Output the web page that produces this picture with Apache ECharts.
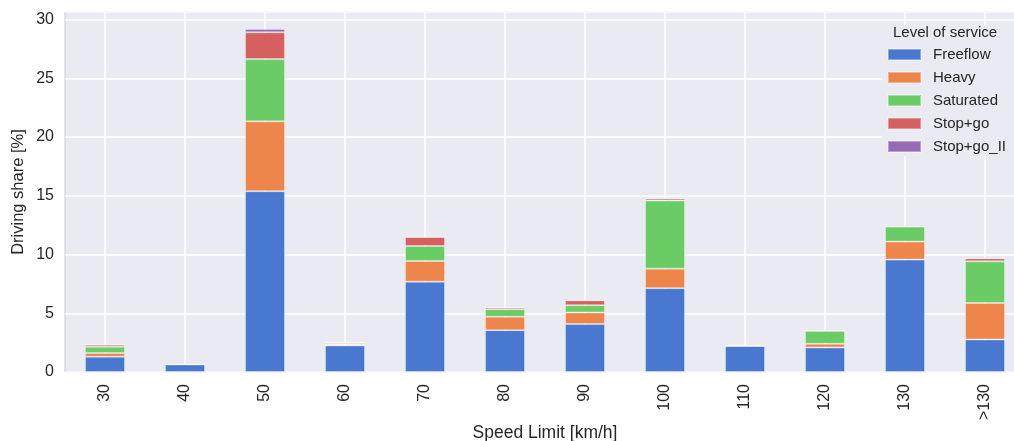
<!DOCTYPE html>
<html>
<head>
<meta charset="utf-8">
<script src="https://cdn.jsdelivr.net/npm/echarts@6/dist/echarts.min.js"></script>
<style>
  html, body { margin: 0; padding: 0; background: #ffffff; }
  #chart { width: 1014px; height: 441px; }
</style>
</head>
<body>
<div id="chart"></div>
<script>
// Driving share per speed limit, split by level of service (stacked, %)
const categories = ['30', '40', '50', '60', '70', '80', '90', '100', '110', '120', '130', '>130'];
const freeflow   = [1.30, 0.64, 15.39, 2.26, 7.69, 3.56, 4.08, 7.14, 2.23, 2.09, 9.57, 2.77];
const heavy      = [0.32, 0.00, 5.95, 0.08, 1.76, 1.15, 0.99, 1.66, 0.00, 0.31, 1.53, 3.10];
const saturated  = [0.54, 0.00, 5.30, 0.07, 1.28, 0.64, 0.62, 5.80, 0.00, 1.11, 1.28, 3.55];
const stopGo     = [0.17, 0.00, 2.28, 0.10, 0.77, 0.15, 0.41, 0.17, 0.00, 0.00, 0.00, 0.26];
const stopGoII   = [0.02, 0.00, 0.28, 0.00, 0.02, 0.00, 0.00, 0.02, 0.00, 0.00, 0.00, 0.00];
const yTicks = [0, 5, 10, 15, 20, 25, 30];

const seriesNames = ['Freeflow', 'Heavy', 'Saturated', 'Stop+go', 'Stop+go_II'];
const seriesValues = [freeflow, heavy, saturated, stopGo, stopGoII];
const palette = ['#4878d0', '#ee854a', '#6acc64', '#d65f5f', '#956cb4'];

const FONT = '"Liberation Sans", Arial, sans-serif';
const TEXT = '#262626';

const chart = echarts.init(document.getElementById('chart'), null, { renderer: 'canvas' });

chart.setOption({
  animation: false,
  color: palette,
  textStyle: { fontFamily: FONT },
  grid: {
    left: 65, right: -11, top: 12, bottom: 69,
    containLabel: false,
    outerBoundsMode: 'none',
    show: true,
    backgroundColor: '#eaeaf2',
    borderColor: '#c8c8d0',
    borderWidth: 1
  },
  title: {
    text: 'Level of service',
    left: 893, top: 25, padding: 0,
    textStyle: { fontFamily: FONT, fontSize: 15, fontWeight: 'normal', color: TEXT }
  },
  legend: {
    orient: 'vertical',
    left: 882, top: 25,
    padding: [22, 10, 2, 5],
    backgroundColor: '#eaeaf2',
    itemWidth: 33, itemHeight: 11, itemGap: 8,
    icon: 'rect',
    data: seriesNames,
    textStyle: { fontFamily: FONT, fontSize: 15, color: TEXT, padding: [0, 0, 0, 7] }
  },
  xAxis: {
    type: 'category',
    data: categories,
    boundaryGap: true,
    name: 'Speed Limit [km/h]',
    nameLocation: 'middle',
    nameGap: 52,
    nameMoveOverlap: false,
    nameTextStyle: { fontFamily: FONT, fontSize: 17.5, color: TEXT },
    axisLine: { show: false },
    axisTick: { show: false },
    axisLabel: { rotate: 90, margin: 12, fontFamily: FONT, fontSize: 16, color: TEXT },
    splitLine: { show: true, alignWithLabel: true, lineStyle: { color: '#ffffff', width: 1.5 } }
  },
  yAxis: {
    type: 'value',
    min: 0, max: 30.65, interval: 5,
    name: 'Driving share [%]',
    nameLocation: 'middle',
    nameGap: 38,
    nameMoveOverlap: false,
    nameTextStyle: { fontFamily: FONT, fontSize: 16.5, color: TEXT },
    axisLine: { show: false },
    axisTick: { show: false },
    axisLabel: {
      margin: 11, fontFamily: FONT, fontSize: 16, color: TEXT,
      formatter: v => (yTicks.indexOf(v) >= 0 ? String(v) : '')
    },
    splitLine: { show: true, lineStyle: { color: '#ffffff', width: 1.5 } }
  },
  series: seriesNames.map((name, i) => ({
    name: name,
    type: 'bar',
    stack: 'share',
    barWidth: 40,
    data: seriesValues[i],
    itemStyle: { borderColor: 'rgba(255,255,255,0.35)', borderWidth: 1 }
  }))
});
</script>
</body>
</html>
